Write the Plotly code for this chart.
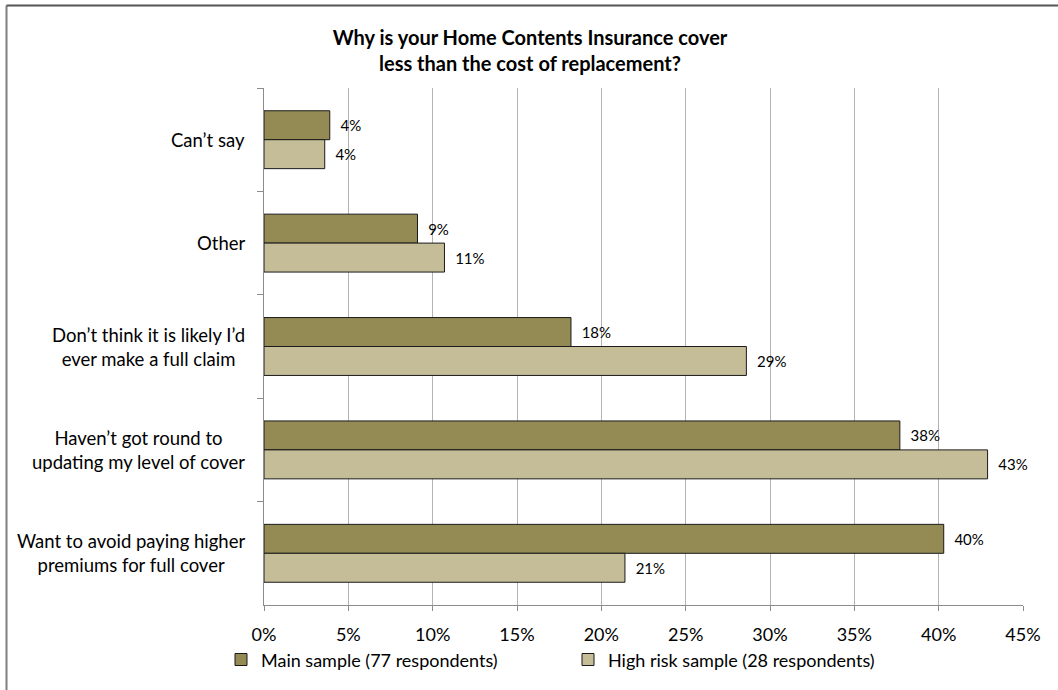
import plotly.graph_objects as go

# Survey responses, listed top to bottom as they appear on the chart
categories = [
    "Can\u2019t say",
    "Other",
    "Don\u2019t think it is likely I\u2019d<br>ever make a full claim",
    "Haven\u2019t got round to<br>updating my level of cover",
    "Want to avoid paying higher<br>premiums for full cover",
]
main_sample = [3.9, 9.1, 18.2, 37.7, 40.3]       # % of 77 respondents
high_risk_sample = [3.6, 10.7, 28.6, 42.9, 21.4]  # % of 28 respondents
x_ticks = [0, 5, 10, 15, 20, 25, 30, 35, 40, 45]

FONT = "Lato, Calibri, Carlito, sans-serif"
PAD = "\u00a0\u00a0"


def pct_labels(values):
    return [f"{PAD}{v:.0f}%" for v in values]


fig = go.Figure()
fig.add_trace(go.Bar(
    y=categories, x=main_sample, orientation="h",
    name="Main sample (77 respondents)",
    marker=dict(color="#948A54", line=dict(color="#1a1a1a", width=1)),
    text=pct_labels(main_sample), textposition="outside",
    textfont=dict(size=15, color="#000"), cliponaxis=False,
))
fig.add_trace(go.Bar(
    y=categories, x=high_risk_sample, orientation="h",
    name="High risk sample (28 respondents)",
    marker=dict(color="#C4BD97", line=dict(color="#1a1a1a", width=1)),
    text=pct_labels(high_risk_sample), textposition="outside",
    textfont=dict(size=15, color="#000"), cliponaxis=False,
))

L, R, T, B = 264, 35, 88, 85
W, H = 1058, 690
pw, ph = W - L - R, H - T - B

# Category labels as centred text blocks placed on the category axis
category_labels = [
    dict(text=c, xref="paper", yref="y", x=(247 - L) / pw, y=c,
         xanchor="right", yanchor="middle", align="center",
         showarrow=False, font=dict(size=18.5, family=FONT, color="#000"))
    for c in categories
]

fig.update_layout(
    width=W, height=H,
    margin=dict(l=L, r=R, t=T, b=B),
    paper_bgcolor="white", plot_bgcolor="white",
    font=dict(family=FONT, color="#000"),
    barmode="group", bargap=0.44, bargroupgap=0,
    title=dict(
        text="<b>Why is your Home Contents Insurance cover<br>less than the cost of replacement?</b>",
        x=530 / W, xanchor="center", y=1 - 45 / H, yanchor="middle",
        font=dict(size=20, family=FONT),
    ),
    xaxis=dict(
        range=[0, 45], tickvals=x_ticks, ticktext=[f"{t}%" for t in x_ticks],
        showgrid=True, gridcolor="#B3B3B3", gridwidth=1,
        showline=True, linecolor="#8C8C8C", linewidth=1,
        ticks="outside", ticklen=5, tickcolor="#8C8C8C",
        tickfont=dict(size=18), ticklabelstandoff=8,
        zeroline=False, fixedrange=True,
    ),
    yaxis=dict(
        autorange="reversed", tickson="boundaries",
        showline=True, linecolor="#8C8C8C", linewidth=1,
        ticks="outside", ticklen=6, tickcolor="#8C8C8C",
        showticklabels=False, showgrid=False,
    ),
    legend=dict(
        orientation="h", x=(221 - L) / pw, xanchor="left",
        y=-0.106, yanchor="middle", font=dict(size=18),
        traceorder="normal", entrywidth=302, entrywidthmode="pixels",
    ),
    showlegend=True,
    annotations=category_labels,
    shapes=[
        dict(type="line", xref="paper", yref="paper",
             x0=(6.5 - L) / pw, x1=(6.5 - L) / pw,
             y0=1 + (T - 5.5) / ph, y1=-(B + 10) / ph,
             line=dict(color="#7F7F7F", width=2)),
        dict(type="line", xref="paper", yref="paper",
             x0=(6.5 - L) / pw, x1=1 + (R + 10) / pw,
             y0=1 + (T - 5.5) / ph, y1=1 + (T - 5.5) / ph,
             line=dict(color="#555555", width=2)),
    ],
)

fig.write_html("out.html")
